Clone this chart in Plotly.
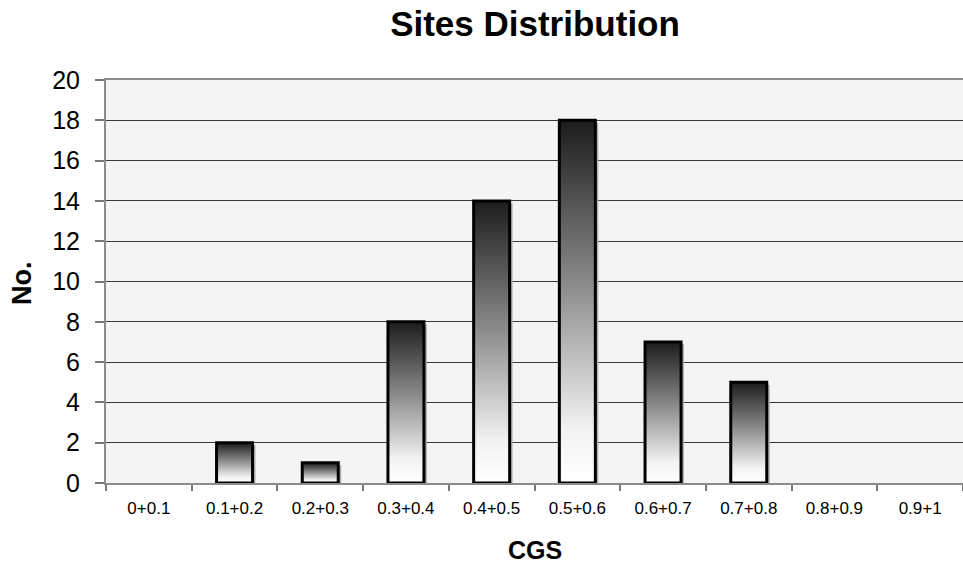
import plotly.graph_objects as go

# CGS class intervals and number of sites in each
categories = ["0+0.1", "0.1+0.2", "0.2+0.3", "0.3+0.4", "0.4+0.5",
              "0.5+0.6", "0.6+0.7", "0.7+0.8", "0.8+0.9", "0.9+1"]
counts = [0, 2, 1, 8, 14, 18, 7, 5, 0, 0]
y_ticks = list(range(0, 21, 2))

FONT = "Liberation Sans, Arial, sans-serif"
BAR_W = 0.42
SHADOW_DX = 0.035
GRADIENT = [[0.0, "#ffffff"], [0.15, "#f2f2f2"], [0.55, "#8a8a8a"], [1.0, "#1c1c1c"]]

xs = list(range(len(categories)))
fig = go.Figure()

for i, n, label in zip(xs, counts, categories):
    if n == 0:
        continue
    left, right = i - BAR_W / 2, i + BAR_W / 2
    # soft drop shadow to the right of each column
    fig.add_trace(go.Scatter(
        x=[left + SHADOW_DX, right + SHADOW_DX, right + SHADOW_DX, left + SHADOW_DX],
        y=[0, 0, n - 0.12, n - 0.12],
        fill="toself", fillcolor="#b0b0b0", mode="lines", line=dict(width=0),
        hoverinfo="skip", showlegend=False,
    ))
    # column: vertical gradient (white base, near-black top) with a black outline
    fig.add_trace(go.Scatter(
        x=[left, right, right, left, left],
        y=[0, 0, n, n, 0],
        fill="toself", mode="lines",
        line=dict(color="#000000", width=3),
        fillgradient=dict(type="vertical", colorscale=GRADIENT),
        name=label, hovertemplate=f"{label}: {n}<extra></extra>",
        showlegend=False,
    ))

fig.update_layout(
    width=963, height=564,
    margin=dict(l=106, r=0, t=80, b=81),
    paper_bgcolor="#ffffff", plot_bgcolor="#f4f4f4",
    font=dict(family=FONT, color="#000000"),
    title=dict(text="Sites Distribution", x=535 / 963, xanchor="center",
               y=1 - 24 / 564, yanchor="middle",
               font=dict(family=FONT, size=35, weight="bold", color="#000000")),
    xaxis=dict(
        range=[-0.5, len(categories) - 0.5],
        tickvals=xs, ticktext=categories, ticks="",
        tickfont=dict(size=17), ticklabelstandoff=9,
        showgrid=False, zeroline=False,
        showline=True, linecolor="#8c8c8c", linewidth=2, mirror=True,
        minor=dict(tickvals=[k - 0.5 for k in range(len(categories) + 1)],
                   ticks="outside", ticklen=6, tickwidth=1.5, tickcolor="#777777",
                   showgrid=False),
    ),
    yaxis=dict(
        range=[0, 20], tickvals=y_ticks,
        ticks="outside", ticklen=9, tickwidth=1.5, tickcolor="#777777",
        tickfont=dict(size=25), ticklabelstandoff=10,
        showgrid=True, gridcolor="#3a3a3a", gridwidth=1,
        zeroline=False, showline=True, linecolor="#8c8c8c", linewidth=2,
    ),
    annotations=[
        dict(text="No.", xref="paper", yref="paper", x=(22 - 106) / 857, y=(483 - 283) / 403,
             xanchor="center", yanchor="middle", textangle=-90, showarrow=False,
             font=dict(family=FONT, size=27, weight="bold")),
        dict(text="CGS", xref="paper", yref="paper", x=(535 - 106) / 857, y=(483 - 550) / 403,
             xanchor="center", yanchor="middle", showarrow=False,
             font=dict(family=FONT, size=25, weight="bold")),
    ],
)

fig.write_html("out.html")
